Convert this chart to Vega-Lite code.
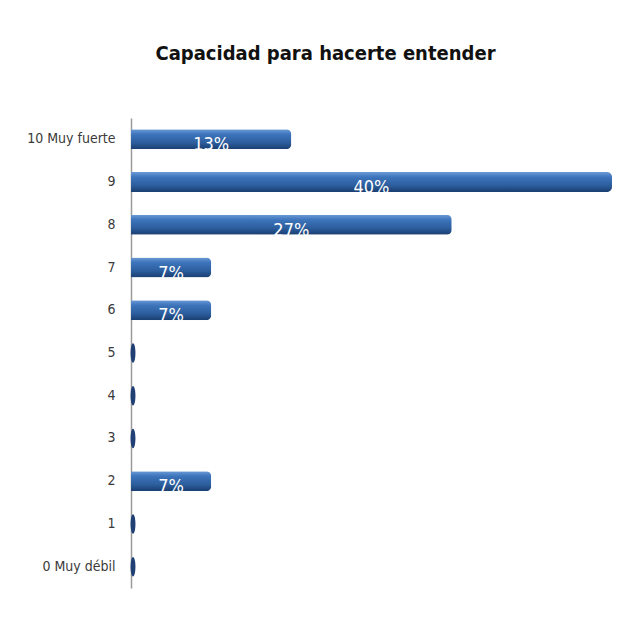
{
  "$schema": "https://vega.github.io/schema/vega-lite/v6.json",
  "width": 481,
  "height": 470,
  "autosize": "none",
  "padding": {"left": 131, "top": 118, "right": 19, "bottom": 30},
  "background": "white",
  "title": {
    "text": "Capacidad para hacerte entender",
    "font": "DejaVu Sans Condensed, Liberation Sans Narrow, Roboto Condensed, sans-serif",
    "fontSize": 20,
    "fontWeight": "bold",
    "color": "#111111",
    "anchor": "middle",
    "dx": -46,
    "offset": 54
  },
  "data": {
    "values": [
      {"cat": "10 Muy fuerte", "pct": 0.1333},
      {"cat": "9", "pct": 0.4},
      {"cat": "8", "pct": 0.2667},
      {"cat": "7", "pct": 0.0667},
      {"cat": "6", "pct": 0.0667},
      {"cat": "5", "pct": 0},
      {"cat": "4", "pct": 0},
      {"cat": "3", "pct": 0},
      {"cat": "2", "pct": 0.0667},
      {"cat": "1", "pct": 0},
      {"cat": "0 Muy débil", "pct": 0}
    ]
  },
  "encoding": {
    "y": {
      "field": "cat",
      "type": "nominal",
      "sort": null,
      "scale": {"paddingInner": 0.1, "paddingOuter": 0.05},
      "axis": {
        "title": null,
        "ticks": false,
        "labelPadding": 16,
        "labelFont": "DejaVu Sans Condensed, Liberation Sans Narrow, Roboto Condensed, sans-serif",
        "labelFontSize": 14,
        "labelColor": "#3a3a3a",
        "domainColor": "#9a9a9a",
        "domainWidth": 1.5
      }
    }
  },
  "layer": [
    {
      "mark": {
        "type": "bar",
        "height": 20,
        "cornerRadiusEnd": 5,
        "color": {
          "gradient": "linear",
          "x1": 0, "y1": 0, "x2": 0, "y2": 1,
          "stops": [
            {"offset": 0, "color": "#6b9ad6"},
            {"offset": 0.25, "color": "#3d74bb"},
            {"offset": 0.65, "color": "#2d5f9f"},
            {"offset": 1, "color": "#1a3e70"}
          ]
        }
      },
      "encoding": {
        "x": {
          "field": "pct",
          "type": "quantitative",
          "scale": {"domain": [0, 0.4], "nice": false},
          "axis": null
        }
      }
    },
    {
      "transform": [{"filter": "datum.pct == 0"}],
      "mark": {
        "type": "point",
        "filled": true,
        "shape": "M0,-1A0.25,1,0,1,1,0,1A0.25,1,0,1,1,0,-1Z",
        "size": 380,
        "color": "#1f3f75",
        "opacity": 1,
        "xOffset": 2
      },
      "encoding": {
        "x": {"field": "pct", "type": "quantitative"}
      }
    },
    {
      "transform": [
        {"filter": "datum.pct > 0"},
        {"calculate": "datum.pct / 2", "as": "mid"}
      ],
      "mark": {
        "type": "text",
        "color": "white",
        "font": "DejaVu Sans Condensed, Liberation Sans Narrow, Roboto Condensed, sans-serif",
        "fontSize": 18,
        "baseline": "middle",
        "dy": 6
      },
      "encoding": {
        "x": {"field": "mid", "type": "quantitative"},
        "text": {"field": "pct", "type": "quantitative", "format": ".0%"}
      }
    }
  ],
  "config": {"view": {"stroke": null}}
}
